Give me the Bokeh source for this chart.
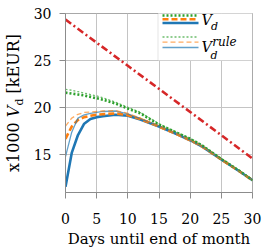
from bokeh.plotting import figure
from bokeh.layouts import row
from bokeh.models import Arrow, BoxAnnotation, Label, FixedTicker, Div
from bokeh.embed import file_html
from bokeh.resources import INLINE

# ---- data (x1000 kEUR per day until end of month) ----
DAYS = [0, 1, 2, 3, 4, 5, 6, 8, 10, 12, 15, 18, 20, 22, 25, 28, 30]
BOUND_DAYS = [0, 10, 20, 30]
VD_BOUND = [29.35, 24.45, 19.55, 14.6]

VD_GREEN = [21.6, 21.5, 21.4, 21.3, 21.15, 21.0, 20.85, 20.45, 19.9, 19.4,
            18.2, 17.3, 16.7, 15.95, 14.55, 13.25, 12.3]
VD_ORANGE = [16.7, 18.0, 18.7, 19.0, 19.15, 19.25, 19.3, 19.4, 19.2, 18.8,
             18.0, 17.15, 16.55, 15.85, 14.5, 13.2, 12.3]
VD_BLUE = [11.6, 15.2, 17.1, 18.3, 18.8, 19.0, 19.1, 19.25, 19.15, 18.75,
           18.0, 17.15, 16.55, 15.85, 14.5, 13.2, 12.3]

RULE_GREEN = [21.95, 21.85, 21.7, 21.55, 21.4, 21.25, 21.05, 20.6, 20.05, 19.5,
              18.3, 17.35, 16.75, 16.0, 14.6, 13.3, 12.3]
RULE_ORANGE = [18.05, 18.9, 19.3, 19.5, 19.55, 19.6, 19.65, 19.7, 19.4, 18.9,
               18.05, 17.2, 16.55, 15.85, 14.5, 13.2, 12.3]
RULE_BLUE = [14.8, 17.4, 18.9, 19.25, 19.4, 19.5, 19.6, 19.65, 19.35, 18.85,
             18.05, 17.2, 16.55, 15.85, 14.5, 13.2, 12.3]

X_TICKS = [0, 5, 10, 15, 20, 25, 30]
Y_TICKS = [15, 20, 25, 30]

RED, GREEN, ORANGE, BLUE = "#d62728", "#2ca02c", "#ff7f0e", "#1f77b4"
SERIF = "DejaVu Serif"

THICK = 2.6
THIN = 1.3
STYLE = {
    "bound": dict(line_color=RED, line_width=THICK, line_dash="7 3 2 3"),
    "vd_green": dict(line_color=GREEN, line_width=THICK, line_dash="2 2"),
    "vd_orange": dict(line_color=ORANGE, line_width=THICK, line_dash="6 3"),
    "vd_blue": dict(line_color=BLUE, line_width=THICK),
    "rule_green": dict(line_color=GREEN, line_width=THIN, line_dash="2 2", line_alpha=0.7),
    "rule_orange": dict(line_color=ORANGE, line_width=THIN, line_dash="5 3", line_alpha=0.65),
    "rule_blue": dict(line_color=BLUE, line_width=THIN, line_alpha=0.7),
}

LABEL_COL = 24  # width of the column holding the rotated y-axis title

p = figure(width=263 - LABEL_COL, height=250, x_range=(0, 30), y_range=(11, 30),
           output_backend="svg", toolbar_location=None, margin=0,
           min_border_left=65 - LABEL_COL, min_border_right=11,
           min_border_top=13, min_border_bottom=51)
p.background_fill_color = "white"
p.border_fill_color = "white"
p.outline_line_color = "#a8a8a8"

# axes
axis_gray = "#8c8c8c"
for ax in (p.xaxis[0], p.yaxis[0]):
    ax.axis_line_color = axis_gray
    ax.major_tick_line_color = axis_gray
    ax.major_tick_out = 6
    ax.major_tick_in = 0
    ax.minor_tick_line_color = None
    ax.major_label_text_font = SERIF
    ax.major_label_text_font_size = "14px"
    ax.major_label_text_color = "black"
p.xaxis.ticker = FixedTicker(ticks=X_TICKS)
p.yaxis.ticker = FixedTicker(ticks=Y_TICKS)
p.xaxis.major_label_standoff = 14
p.yaxis.major_label_standoff = 8
p.xaxis.axis_label = "Days until end of month"
p.xaxis.axis_label_text_font = SERIF
p.xaxis.axis_label_text_font_style = "normal"
p.xaxis.axis_label_text_font_size = "15px"
p.xaxis.axis_label_text_color = "black"
p.xaxis.axis_label_standoff = 3

p.grid.grid_line_color = "#c4c4c4"
p.grid.grid_line_width = 1

# curves
p.line(BOUND_DAYS, VD_BOUND, **STYLE["bound"])
p.line(DAYS, VD_BLUE, **STYLE["vd_blue"])
p.line(DAYS, VD_ORANGE, **STYLE["vd_orange"])
p.line(DAYS, VD_GREEN, **STYLE["vd_green"])
p.line(DAYS, RULE_BLUE, **STYLE["rule_blue"])
p.line(DAYS, RULE_ORANGE, **STYLE["rule_orange"])
p.line(DAYS, RULE_GREEN, **STYLE["rule_green"])

# legend: box, stacked sample lines, and labels
p.add_layout(BoxAnnotation(left=92.5, right=187, top=186, bottom=132,
                           left_units="screen", right_units="screen",
                           top_units="screen", bottom_units="screen",
                           fill_color="white", fill_alpha=1.0,
                           line_color="#a8a8a8", line_width=1))

legend_rows = [
    ("bound", 180.7), ("vd_green", 177.0), ("vd_orange", 173.3), ("vd_blue", 169.5),
    ("rule_green", 155.5), ("rule_orange", 150.3), ("rule_blue", 145.0),
]
for key, ypos in legend_rows:
    p.add_layout(Arrow(end=None, x_start=97, y_start=ypos, x_end=133, y_end=ypos,
                       start_units="screen", end_units="screen", **STYLE[key]))

legend_texts = [
    ("V", "14.5px", 136.0, 172.3),
    ("d", "11px", 145.5, 165.7),
    ("V", "14.5px", 136.0, 145.7),
    ("rule", "12px", 146.7, 150.7),
    ("d", "11px", 145.0, 137.3),
]
for text, size, xpos, ypos in legend_texts:
    p.add_layout(Label(x=xpos, y=ypos, x_units="screen", y_units="screen",
                       text=text, text_font=SERIF, text_font_style="italic",
                       text_font_size=size, text_color="black",
                       text_align="left", text_baseline="alphabetic"))

# rotated y-axis title (HTML so that V carries a real subscript)
ylabel = Div(
    width=LABEL_COL, height=250, margin=0,
    text=(
        '<div style="position:absolute; left:-111px; top:92.5px; width:250px; '
        'height:20px; line-height:20px; transform:rotate(-90deg); '
        'text-align:center; white-space:nowrap; color:black; '
        "font-family:'DejaVu Serif'; font-size:16px;\">"
        'x1000 <i>V</i><sub style="font-size:11px; line-height:0;">d</sub> [kEUR]'
        '</div>'
    ),
)

layout = row(ylabel, p, spacing=0, margin=0)
open("out.html", "w").write(file_html(layout, INLINE))
